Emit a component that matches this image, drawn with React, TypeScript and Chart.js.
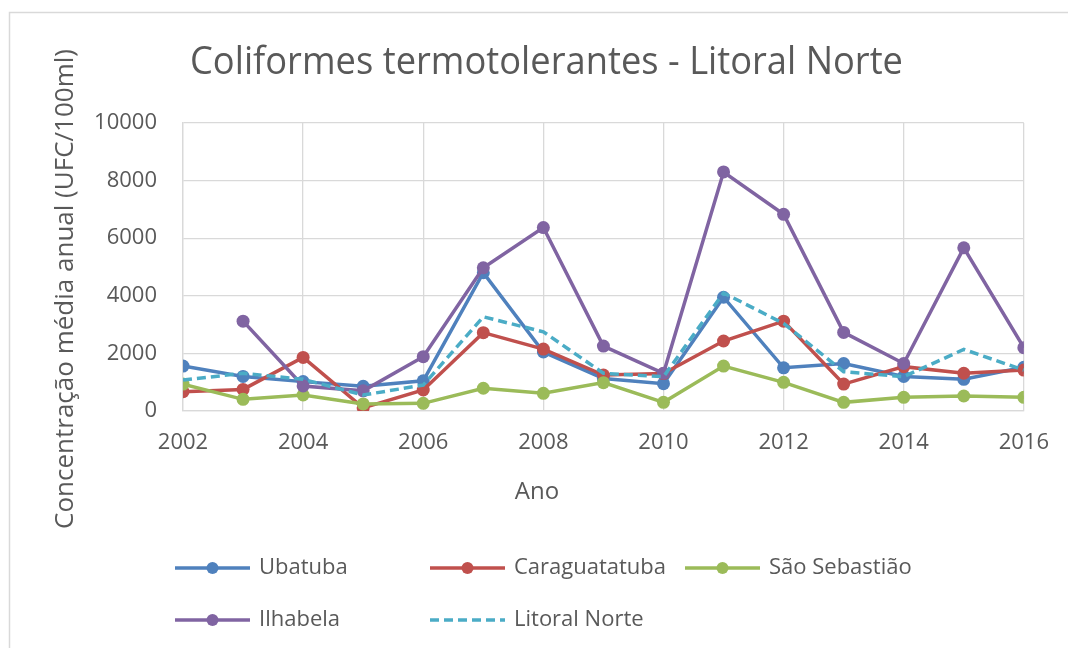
import React, { useEffect, useRef } from "react";
import { Chart, registerables } from "chart.js";

Chart.register(...registerables);

const years = [2002, 2003, 2004, 2005, 2006, 2007, 2008, 2009, 2010, 2011, 2012, 2013, 2014, 2015, 2016];
const ubatuba = [1560, 1200, 1020, 860, 1050, 4800, 2050, 1130, 950, 3950, 1500, 1650, 1200, 1100, 1520];
const caraguatatuba = [670, 750, 1860, 110, 730, 2720, 2150, 1250, 1300, 2430, 3120, 935, 1540, 1310, 1420];
const saoSebastiao = [935, 405, 555, 245, 265, 790, 615, 985, 300, 1560, 995, 300, 475, 520, 475];
const ilhabela = [null, 3120, 870, 700, 1885, 4970, 6370, 2255, 1310, 8300, 6830, 2730, 1650, 5665, 2200];
const litoralNorte = [1075, 1310, 1100, 555, 900, 3270, 2750, 1310, 1190, 4100, 3040, 1365, 1190, 2140, 1420];

const seriesNames = ["Ubatuba", "Caraguatatuba", "São Sebastião", "Ilhabela", "Litoral Norte"];
const seriesColors = ["#4F81BD", "#C0504D", "#9BBB59", "#8064A2", "#4BACC6"];

const xTickValues = [2002, 2004, 2006, 2008, 2010, 2012, 2014, 2016];
const yTickValues = [0, 2000, 4000, 6000, 8000, 10000];

const chartTitle = "Coliformes termotolerantes - Litoral Norte";
const xTitle = "Ano";
const yTitle = "Concentração média anual (UFC/100ml)";

const TEXT = "#595959";
const GRID = "#d9d9d9";
const FONT = "'Open Sans', sans-serif";

const toPoints = (vals: (number | null)[]) => years.map((y, i) => ({ x: y, y: vals[i] }));

const decorPlugin = {
  id: "decor",
  beforeDraw(chart: any) {
    const ctx = chart.ctx;
    ctx.save();
    ctx.strokeStyle = GRID;
    ctx.lineWidth = 1.5;
    ctx.strokeRect(9.5, 12.5, 1200, 800);
    ctx.restore();
  },
  afterDraw(chart: any) {
    const ctx = chart.ctx;
    ctx.save();
    ctx.fillStyle = TEXT;
    // title
    ctx.font = `39px ${FONT}`;
    ctx.textAlign = "left";
    ctx.textBaseline = "alphabetic";
    ctx.fillText(chartTitle, 190, 74, 713);
    // x title
    ctx.font = `24px ${FONT}`;
    ctx.textAlign = "center";
    ctx.fillText(xTitle, 537, 499, 46);
    // y title
    ctx.save();
    ctx.translate(73, 289);
    ctx.rotate(-Math.PI / 2);
    ctx.font = `26px ${FONT}`;
    ctx.textAlign = "center";
    ctx.fillText(yTitle, 0, 0, 482);
    ctx.restore();

    // legend
    const slots = [
      { x: 175, y: 568 },
      { x: 430, y: 568 },
      { x: 685, y: 568 },
      { x: 175, y: 620 },
      { x: 430, y: 620 },
    ];
    seriesNames.forEach((name, i) => {
      const s = slots[i];
      const color = seriesColors[i];
      ctx.strokeStyle = color;
      ctx.lineWidth = 3.5;
      ctx.setLineDash(i === 4 ? [9, 5] : []);
      ctx.beginPath();
      ctx.moveTo(s.x, s.y);
      ctx.lineTo(s.x + 75, s.y);
      ctx.stroke();
      ctx.setLineDash([]);
      if (i !== 4) {
        ctx.fillStyle = color;
        ctx.beginPath();
        ctx.arc(s.x + 37.5, s.y, 6, 0, Math.PI * 2);
        ctx.fill();
      }
      ctx.fillStyle = TEXT;
      ctx.font = `22px ${FONT}`;
      ctx.textAlign = "left";
      ctx.textBaseline = "alphabetic";
      ctx.fillText(name, s.x + 84, s.y + 6);
    });
    ctx.restore();
  },
};

export default function App() {
  const ref = useRef<HTMLCanvasElement>(null);
  useEffect(() => {
    document.body.style.margin = "0";
    const seriesData = [ubatuba, caraguatatuba, saoSebastiao, ilhabela, litoralNorte];
    const chart = new Chart(ref.current!, {
      type: "line",
      data: {
        datasets: seriesData.map((vals, i) => ({
          label: seriesNames[i],
          data: toPoints(vals),
          borderColor: seriesColors[i],
          backgroundColor: seriesColors[i],
          borderWidth: 3.5,
          borderDash: i === 4 ? [9, 5] : [],
          pointRadius: i === 4 ? 0 : 6.5,
          pointBackgroundColor: seriesColors[i],
          pointBorderColor: seriesColors[i],
          pointBorderWidth: 0,
          tension: 0,
          fill: false,
          order: 10 - i,
        })),
      },
      options: {
        responsive: false,
        animation: false,
        events: [],
        layout: { padding: { left: 0, top: 123, right: 43, bottom: 0 } },
        plugins: {
          legend: { display: false },
          title: { display: false },
          tooltip: { enabled: false },
        },
        scales: {
          x: {
            type: "linear",
            min: 2002,
            max: 2016,
            afterBuildTicks: (scale: any) => {
              scale.ticks = xTickValues.map((v) => ({ value: v }));
            },
            afterFit: (scale: any) => {
              scale.height = 237;
            },
            ticks: {
              autoSkip: false,
              maxRotation: 0,
              padding: 19,
              color: TEXT,
              font: { family: FONT, size: 22 },
              callback: (v: any) => String(v),
            },
            grid: { color: GRID, lineWidth: 1.3, drawTicks: false },
            border: { color: GRID, width: 1.3 },
          },
          y: {
            min: 0,
            max: 10000,
            afterBuildTicks: (scale: any) => {
              scale.ticks = yTickValues.map((v) => ({ value: v }));
            },
            afterFit: (scale: any) => {
              scale.width = 183;
            },
            ticks: {
              padding: 26,
              color: TEXT,
              font: { family: FONT, size: 22 },
              callback: (v: any) => String(v),
            },
            grid: { color: GRID, lineWidth: 1.3, drawTicks: false },
            border: { color: GRID, width: 1.3 },
          },
        },
      },
      plugins: [decorPlugin],
    } as any);
    return () => chart.destroy();
  }, []);
  return (
    <div style={{ width: 1068, height: 648, background: "#fff" }}>
      <canvas ref={ref} width={1068} height={648} />
    </div>
  );
}
